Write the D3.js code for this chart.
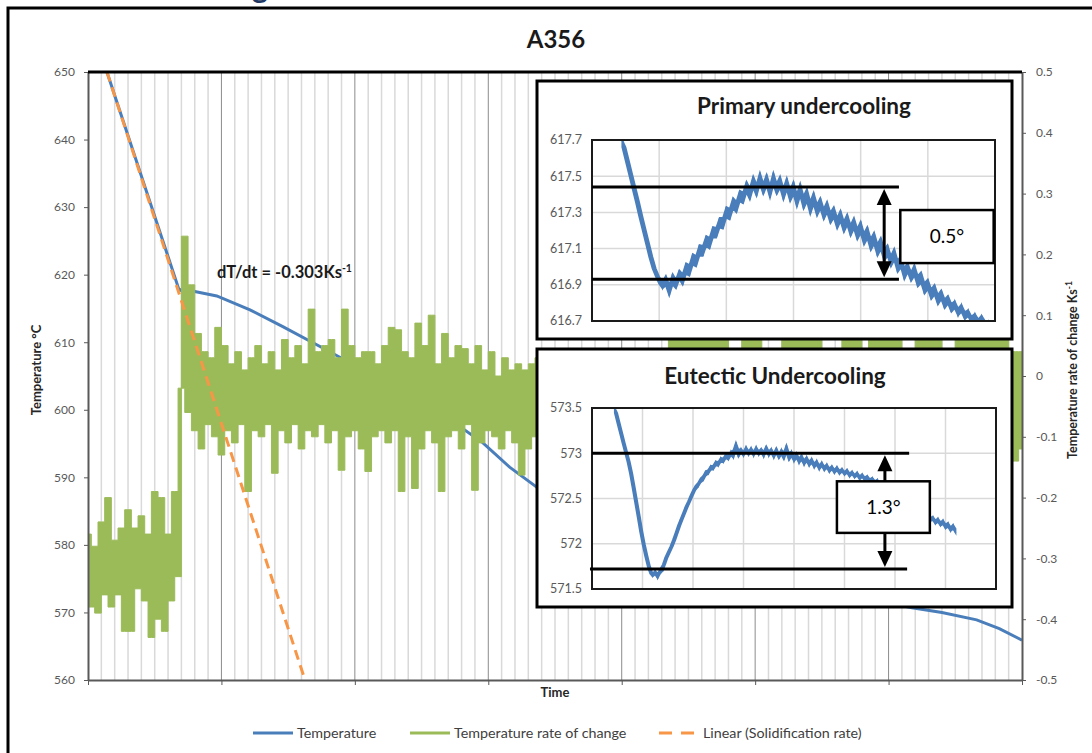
<!DOCTYPE html>
<html>
<head>
<meta charset="utf-8">
<script src="https://cdn.jsdelivr.net/npm/d3@7"></script>
<style>
  body { margin: 0; background: #fff; }
  text { font-family: Lato, 'Open Sans', sans-serif; }
</style>
</head>
<body>
<script>
// ---- main chart data ----
const timeTicks = [0, 10, 20, 30, 40, 50, 60, 70];
const tempTicks = [560, 570, 580, 590, 600, 610, 620, 630, 640, 650];
const rateTicks = [-0.5, -0.4, -0.3, -0.2, -0.1, 0, 0.1, 0.2, 0.3, 0.4, 0.5];

// temperature curve (left axis)
const tempTime = [1.42, 6.8, 7.1, 7.5, 8.0, 9.65, 12.14, 14.6, 17.6, 20.9, 23.9, 26.8, 29.6, 31.6, 33.6,
                  37, 41, 45, 50, 55, 59, 61.75, 64, 66.6, 68.3, 70];
const tempVals = [650, 617.9, 617.5, 617.7, 617.5, 616.85, 614.8, 612.3, 609.15, 605.6, 602.4, 599.0, 595.1, 591.5, 588.6,
                  582.5, 577.5, 574.5, 573.6, 572.8, 571.8, 570.7, 570.0, 568.9, 567.6, 565.9];

// temperature rate of change (right axis), one sample every rateStep
const rateStep = 0.25;
const rateVals = [
  -0.26,-0.38,-0.28,-0.39,-0.24,-0.36,-0.20,-0.38,-0.27,-0.36,-0.25,-0.42,-0.22,-0.42,-0.25,-0.35,-0.23,-0.37,-0.26,-0.43,
  -0.19,-0.40,-0.20,-0.42,-0.26,-0.37,-0.19,-0.33,
  -0.02,0.23,-0.06,0.15,-0.09,0.07,-0.12,0.04,-0.08,0.03,-0.10,0.08,-0.13,0.05,-0.09,0.02,-0.11,0.04,-0.08,0.01,
  -0.19,0.03,-0.09,0.05,-0.10,0.02,-0.08,0.04,-0.16,0.01,-0.09,0.06,-0.11,0.03,-0.08,0.05,-0.12,0.02,-0.09,0.11,
  -0.10,0.04,-0.08,0.05,-0.11,0.06,-0.09,0.03,-0.155,0.11,-0.10,0.05,-0.09,0.03,-0.12,0.04,-0.157,0.04,-0.10,0.02,
  -0.09,0.05,-0.11,0.08,-0.09,0.076,-0.19,0.04,-0.10,0.03,-0.185,0.087,-0.12,0.05,-0.09,0.10,-0.11,0.02,-0.19,0.07,
  -0.10,0.03,-0.09,0.05,-0.12,0.045,-0.08,0.02,-0.188,0.05,-0.11,0.01,-0.09,0.04,-0.10,0.00,-0.12,0.03,-0.09,0.01,
  -0.11,0.02,-0.163,0.01,-0.12,0.02,-0.10,
  0.03,-0.10,0.02,-0.12,0.04,-0.09,0.01,-0.11,0.03,-0.10,0.02,-0.13,0.04,-0.09,0.01,-0.11,0.03,-0.10,0.02,-0.12,
  0.04,-0.09,0.03,-0.11,0.01,-0.10,0.02,-0.12,0.04,-0.09,0.03,-0.11,0.01,-0.10,0.02,-0.12,0.04,-0.09,0.03,
  -0.08,0.09,-0.11,0.08,-0.07,0.10,-0.12,0.07,-0.09,0.11,-0.10,0.08,-0.13,0.09,-0.08,0.07,-0.11,0.10,-0.09,0.03,
  -0.12,0.04,-0.10,0.09,-0.08,0.12,-0.11,0.08,-0.09,0.03,-0.13,0.02,-0.10,0.04,-0.08,0.09,-0.12,0.10,-0.09,0.08,
  -0.11,0.11,-0.07,0.09,-0.10,0.08,-0.12,0.03,-0.09,0.02,-0.11,0.04,-0.10,0.09,-0.08,0.10,-0.13,0.07,-0.09,0.03,
  -0.11,0.09,-0.10,0.11,-0.08,0.08,-0.12,0.10,-0.09,0.07,-0.11,0.02,-0.10,0.04,-0.08,0.09,-0.12,0.08,-0.10,0.11,
  -0.09,0.07,-0.11,0.03,-0.10,0.02,-0.12,0.09,-0.08,0.10,-0.11,0.08,-0.09,0.07,-0.12,0.09,-0.10,0.08,-0.11,0.07,
  -0.09,0.06,-0.10,0.04,-0.14,0.04,-0.12
];

// linear fit of the liquid cooling (solidification rate)
const linTime = [1.42, 16.26];
const linVals = [650, 560];

// ---- inset: primary undercooling ----
const primStart = 0.45, primStep = 0.05;
const primTicks = [616.7, 616.9, 617.1, 617.3, 617.5, 617.7];
const primVals = [
  617.70,617.62,617.55,617.47,617.40,617.32,617.24,617.17,617.09,617.02,616.96,616.93,616.88,616.95,616.84,616.96,
  616.88,616.98,616.90,617.02,616.95,617.07,617.00,617.12,617.06,617.17,617.10,617.22,617.16,617.27,617.21,617.33,
  617.26,617.38,617.30,617.42,617.35,617.47,617.37,617.50,617.39,617.52,617.40,617.51,617.38,617.52,617.40,617.50,
  617.37,617.49,617.36,617.47,617.33,617.46,617.32,617.43,617.29,617.41,617.28,617.38,617.26,617.36,617.24,617.33,
  617.21,617.31,617.19,617.29,617.17,617.27,617.15,617.25,617.12,617.22,617.09,617.19,617.06,617.16,617.03,617.12,
  617.00,617.10,616.97,617.06,616.93,617.02,616.92,617.01,616.89,616.97,616.85,616.93,616.82,616.90,616.79,616.87,
  616.77,616.84,616.75,616.81,616.73,616.79,616.71,616.76,616.69,616.74,616.68,616.73,616.67,616.70,616.64
];
const primLevels = [617.44, 616.93];

// ---- inset: eutectic undercooling ----
const eutStart = 0.45, eutStep = 0.05;
const eutTicks = [571.5, 572, 572.5, 573, 573.5];
const eutVals = [
  573.50,573.39,573.28,573.17,573.06,572.96,572.85,572.70,572.54,572.38,572.22,572.05,571.93,571.80,571.70,571.64,
  571.70,571.62,571.72,571.70,571.84,571.86,571.96,571.98,572.10,572.14,572.26,572.28,572.40,572.42,572.52,572.55,
  572.64,572.63,572.72,572.70,572.80,572.77,572.86,572.82,572.91,572.86,572.95,572.90,572.99,572.93,573.02,572.95,
  573.12,572.96,573.05,572.97,573.07,572.98,573.06,572.97,573.07,572.98,573.05,572.96,573.08,572.97,573.05,572.95,
  573.06,572.94,573.04,572.93,573.09,572.92,573.02,572.91,573.00,572.89,572.98,572.87,572.96,572.86,572.94,572.84,
  572.92,572.82,572.90,572.81,572.88,572.79,572.86,572.78,572.85,572.77,572.83,572.76,572.82,572.74,572.80,572.73,
  572.79,572.71,572.77,572.70,572.75,572.68,572.73,572.66,572.71,572.63,572.68,572.60,572.64,572.56,572.60,572.52,
  572.55,572.47,572.50,572.42,572.45,572.37,572.41,572.33,572.38,572.30,572.35,572.27,572.33,572.25,572.30,572.22,
  572.28,572.20,572.26,572.17,572.23,572.14,572.21,572.12
];
const eutLevels = [573.0, 571.72];

const W = 1092, H = 753;
const grey = '#595959';
const blue = '#4a7ebb';

const svg = d3.select('body').append('svg')
    .attr('width', W)
    .attr('height', H);

// frame of the chart object
svg.append('rect')
    .attr('x', 8).attr('y', 8)
    .attr('width', 1100).attr('height', 770)
    .attr('fill', 'none')
    .attr('stroke', '#000')
    .attr('stroke-width', 3);

// bit of the page heading above the chart
svg.append('text')
    .attr('x', 252).attr('y', -2)
    .attr('font-size', 30)
    .attr('font-weight', 'bold')
    .attr('fill', '#1f3864')
    .text('g');

svg.append('text')
    .attr('x', 556).attr('y', 48)
    .attr('text-anchor', 'middle')
    .attr('font-size', 24)
    .attr('font-weight', 'bold')
    .attr('fill', '#1a1a1a')
    .text('A356');

let x = d3.scaleLinear().domain([0, 70]).range([88, 1022]);
let yT = d3.scaleLinear().domain([560, 650]).range([680, 72]);
let yR = d3.scaleLinear().domain([-0.5, 0.5]).range([680, 72]);

// vertical gridlines
let minor = d3.range(0, 71).filter(d => d % 10 !== 0);
svg.append('g').selectAll('line').data(minor).join('line')
    .attr('x1', d => x(d)).attr('x2', d => x(d))
    .attr('y1', 72).attr('y2', 680)
    .attr('stroke', '#d9d9d9')
    .attr('stroke-width', 1.5);
svg.append('g').selectAll('line').data(timeTicks.slice(1, -1)).join('line')
    .attr('x1', d => x(d)).attr('x2', d => x(d))
    .attr('y1', 72).attr('y2', 680)
    .attr('stroke', '#8c8c8c')
    .attr('stroke-width', 1);

svg.append('defs').append('clipPath').attr('id', 'plotClip')
    .append('rect')
    .attr('x', 88).attr('y', 72)
    .attr('width', 934).attr('height', 608);

let plot = svg.append('g').attr('clip-path', 'url(#plotClip)');

let tempLine = d3.line()
    .x((d, i) => x(tempTime[i]))
    .y(d => yT(d));
plot.append('path')
    .attr('d', tempLine(tempVals))
    .attr('fill', 'none')
    .attr('stroke', blue)
    .attr('stroke-width', 3);

// dense sampled signal: each interval filled from the lower to the higher sample
let rateBars = d3.area()
    .curve(d3.curveStepAfter)
    .x((d, i) => x(i * rateStep))
    .y0((d, i, a) => yR(Math.min(d, a[Math.min(i + 1, a.length - 1)])))
    .y1((d, i, a) => yR(Math.max(d, a[Math.min(i + 1, a.length - 1)])));
plot.append('path')
    .attr('d', rateBars(rateVals))
    .attr('fill', '#9bbb59')
    .attr('stroke', '#9bbb59')
    .attr('stroke-width', 1);

let linLine = d3.line()
    .x((d, i) => x(linTime[i]))
    .y(d => yT(d));
plot.append('path')
    .attr('d', linLine(linVals))
    .attr('fill', 'none')
    .attr('stroke', '#f79646')
    .attr('stroke-width', 3)
    .attr('stroke-dasharray', '10,6');

// axes
let styleAxis = (g) => {
    g.select('.domain').attr('stroke', grey).attr('stroke-width', 2);
    g.selectAll('.tick line').attr('stroke', grey).attr('stroke-width', 1);
    g.selectAll('.tick text').attr('fill', grey).attr('font-size', 12);
};

svg.append('g')
    .attr('transform', 'translate(88,0)')
    .call(d3.axisLeft(yT).tickValues(tempTicks).tickSize(4).tickSizeOuter(0).tickPadding(9))
    .call(styleAxis);

svg.append('g')
    .attr('transform', 'translate(1022,0)')
    .call(d3.axisRight(yR).tickValues(rateTicks).tickSize(4).tickSizeOuter(0).tickPadding(10)
        .tickFormat(d => String(+d.toFixed(1))))
    .call(styleAxis);

svg.append('g')
    .attr('transform', 'translate(0,680)')
    .call(d3.axisBottom(x).tickValues(timeTicks).tickSize(5).tickSizeOuter(0).tickFormat(''))
    .call(styleAxis);

// plot area top border
svg.append('line')
    .attr('x1', x(0)).attr('x2', x(70))
    .attr('y1', yT(650)).attr('y2', yT(650))
    .attr('stroke', '#000')
    .attr('stroke-width', 3);

// axis titles
svg.append('text')
    .attr('x', 555).attr('y', 697)
    .attr('text-anchor', 'middle')
    .attr('font-size', 13)
    .attr('font-weight', 'bold')
    .attr('fill', '#262626')
    .text('Time');

svg.append('text')
    .attr('transform', 'translate(41,370) rotate(-90)')
    .attr('text-anchor', 'middle')
    .attr('font-size', 13)
    .attr('font-weight', 'bold')
    .attr('fill', '#262626')
    .text('Temperature °C');

let rTitle = svg.append('text')
    .attr('transform', 'translate(1077,370) rotate(-90)')
    .attr('text-anchor', 'middle')
    .attr('font-size', 12.5)
    .attr('font-weight', 'bold')
    .attr('fill', '#262626');
rTitle.append('tspan').text('Temperature rate of change Ks');
rTitle.append('tspan').attr('dy', -5).attr('font-size', 8.5).text('-1');

let slope = svg.append('text')
    .attr('x', 217).attr('y', 278)
    .attr('font-size', 16.5)
    .attr('font-weight', 'bold')
    .attr('fill', '#1a1a1a');
slope.append('tspan').text('dT/dt = -0.303Ks');
slope.append('tspan').attr('dy', -6).attr('font-size', 10.5).text('-1');

// legend
let legend = [
    { name: 'Temperature', color: blue, dash: null, x0: 253 },
    { name: 'Temperature rate of change', color: '#9bbb59', dash: null, x0: 410 },
    { name: 'Linear (Solidification rate)', color: '#f79646', dash: '13,9', x0: 659 }
];
let lg = svg.append('g').selectAll('g').data(legend).join('g')
    .attr('transform', d => `translate(${d.x0},733)`);
lg.append('line')
    .attr('x1', 0).attr('x2', 40)
    .attr('stroke', d => d.color)
    .attr('stroke-width', 3)
    .attr('stroke-dasharray', d => d.dash);
lg.append('text')
    .attr('x', 44).attr('dy', '0.35em')
    .attr('font-size', 14.3)
    .attr('fill', '#404040')
    .text(d => d.name);

// ---- insets ----
function arrowHead(g, ax, ay, dir) {
    // dir -1: points up, 1: points down
    g.append('path')
        .attr('d', `M${ax},${ay} L${ax - 7.5},${ay - dir * 16} L${ax + 7.5},${ay - dir * 16} Z`)
        .attr('fill', '#000');
}

function drawInset(o) {
    let g = svg.append('g');
    g.append('rect')
        .attr('x', o.box[0]).attr('y', o.box[1])
        .attr('width', o.box[2] - o.box[0]).attr('height', o.box[3] - o.box[1])
        .attr('fill', '#fff')
        .attr('stroke', '#000')
        .attr('stroke-width', 3);
    g.append('text')
        .attr('x', o.titleX).attr('y', o.titleY)
        .attr('text-anchor', 'middle')
        .attr('font-size', 22.5)
        .attr('font-weight', 'bold')
        .attr('fill', '#1a1a1a')
        .text(o.title);

    let xs = d3.scaleLinear().domain(o.xDom).range([o.plot[0], o.plot[2]]);
    let ys = d3.scaleLinear().domain([o.ticks[0], o.ticks[o.ticks.length - 1]]).range([o.plot[3], o.plot[1]]);

    g.append('g').selectAll('line').data(d3.range(o.xDom[0] + 1, o.xDom[1])).join('line')
        .attr('x1', d => xs(d)).attr('x2', d => xs(d))
        .attr('y1', o.plot[1]).attr('y2', o.plot[3])
        .attr('stroke', '#d9d9d9').attr('stroke-width', 1.5);
    g.append('g').selectAll('line').data(o.ticks.slice(1, -1)).join('line')
        .attr('x1', o.plot[0]).attr('x2', o.plot[2])
        .attr('y1', d => ys(d)).attr('y2', d => ys(d))
        .attr('stroke', '#d9d9d9').attr('stroke-width', 1.5);

    g.append('g').selectAll('text').data(o.ticks).join('text')
        .attr('x', o.plot[0] - 10)
        .attr('y', d => ys(d))
        .attr('dy', '0.35em')
        .attr('text-anchor', 'end')
        .attr('font-size', 12.5)
        .attr('fill', grey)
        .text(d => o.fmt(d));

    g.append('clipPath').attr('id', o.id)
        .append('rect')
        .attr('x', o.plot[0]).attr('y', o.plot[1])
        .attr('width', o.plot[2] - o.plot[0]).attr('height', o.plot[3] - o.plot[1]);

    // noisy record: a band half way to the neighbouring samples, with the raw trace over it
    let px = (d, i) => xs(o.start + i * o.step);
    let nb = (i, a) => [a[Math.max(i - 1, 0)], a[i], a[Math.min(i + 1, a.length - 1)]];
    let band = d3.area()
        .x(px)
        .y0((d, i, a) => ys((d + d3.min(nb(i, a))) / 2))
        .y1((d, i, a) => ys((d + d3.max(nb(i, a))) / 2));
    let trace = d3.line().x(px).y(d => ys(d));
    let curve = g.append('g').attr('clip-path', `url(#${o.id})`);
    curve.append('path')
        .attr('d', band(o.vals))
        .attr('fill', blue)
        .attr('stroke', blue)
        .attr('stroke-width', 1.6);
    curve.append('path')
        .attr('d', trace(o.vals))
        .attr('fill', 'none')
        .attr('stroke', blue)
        .attr('stroke-width', 1.4);

    g.append('rect')
        .attr('x', o.plot[0]).attr('y', o.plot[1])
        .attr('width', o.plot[2] - o.plot[0]).attr('height', o.plot[3] - o.plot[1])
        .attr('fill', 'none')
        .attr('stroke', '#1a1a1a')
        .attr('stroke-width', 2);

    // undercooling marks
    o.levels.forEach((v, i) => {
        g.append('line')
            .attr('x1', xs(o.levelX[i][0])).attr('x2', xs(o.levelX[i][1]))
            .attr('y1', ys(v)).attr('y2', ys(v))
            .attr('stroke', '#000')
            .attr('stroke-width', 3);
    });
    let ax = xs(o.arrowX);
    let top = ys(o.levels[0]) + 2, bot = ys(o.levels[1]) - 2;
    g.append('line')
        .attr('x1', ax).attr('x2', ax)
        .attr('y1', top + 12).attr('y2', bot - 12)
        .attr('stroke', '#000')
        .attr('stroke-width', 3);
    arrowHead(g, ax, top, -1);
    arrowHead(g, ax, bot, 1);

    let bx0 = xs(o.labelBox[0]), bx1 = xs(o.labelBox[1]);
    let by0 = ys(o.labelBox[2]), by1 = ys(o.labelBox[3]);
    g.append('rect')
        .attr('x', bx0).attr('y', by0)
        .attr('width', bx1 - bx0).attr('height', by1 - by0)
        .attr('fill', '#fff')
        .attr('stroke', '#000')
        .attr('stroke-width', 2.5);
    g.append('text')
        .attr('x', (bx0 + bx1) / 2).attr('y', (by0 + by1) / 2)
        .attr('dy', '0.35em')
        .attr('text-anchor', 'middle')
        .attr('font-family', "'Liberation Sans', Arial, sans-serif")
        .attr('font-size', 19)
        .attr('fill', '#000')
        .text(o.label);
}

drawInset({
    id: 'primClip',
    box: [537, 81, 1012, 339],
    plot: [592, 140, 995, 321],
    title: 'Primary undercooling', titleX: 804, titleY: 114,
    xDom: [0, 6],
    ticks: primTicks,
    fmt: d => d.toFixed(1),
    start: primStart, step: primStep, vals: primVals,
    levels: primLevels,
    levelX: [[0, 4.57], [0, 4.57]],
    arrowX: 4.35,
    labelBox: [4.59, 5.98, 617.313, 617.02],
    label: '0.5°'
});

drawInset({
    id: 'eutClip',
    box: [537, 349, 1012, 607],
    plot: [592, 408, 996, 589],
    title: 'Eutectic Undercooling', titleX: 775, titleY: 384,
    xDom: [0, 8],
    ticks: eutTicks,
    fmt: d => String(d),
    start: eutStart, step: eutStep, vals: eutVals,
    levels: eutLevels,
    levelX: [[0, 6.28], [-0.04, 6.24]],
    arrowX: 5.8,
    labelBox: [4.85, 6.69, 572.69, 572.12],
    label: '1.3°'
});
</script>
</body>
</html>
